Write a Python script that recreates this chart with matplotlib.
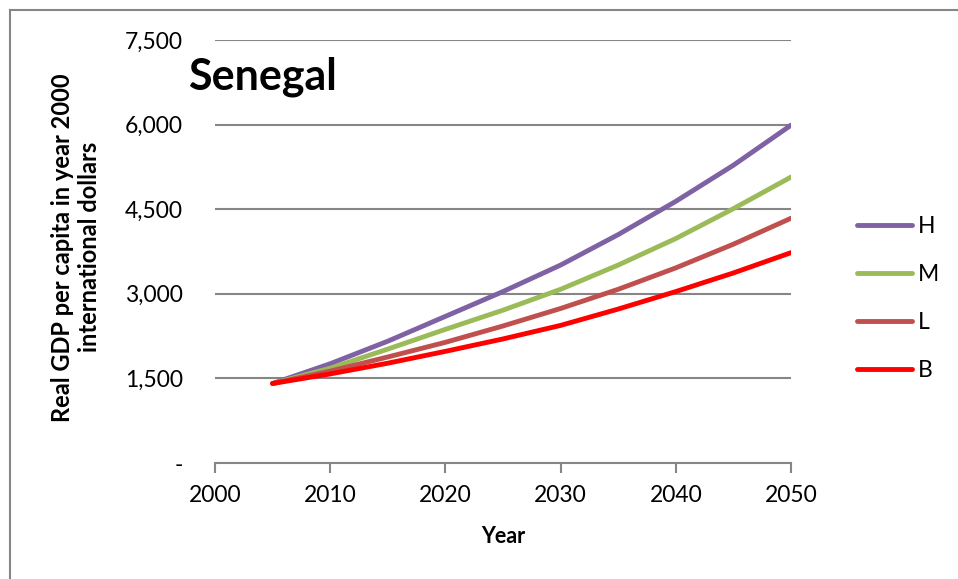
import matplotlib.pyplot as plt
from matplotlib.lines import Line2D
from matplotlib.ticker import FuncFormatter

years = [2005, 2010, 2015, 2020, 2025, 2030, 2035, 2040, 2045, 2050]
gdp_h = [1410, 1760, 2160, 2600, 3040, 3510, 4050, 4640, 5280, 5990]
gdp_m = [1410, 1680, 2020, 2370, 2710, 3080, 3510, 3980, 4510, 5070]
gdp_l = [1410, 1630, 1880, 2140, 2430, 2740, 3080, 3460, 3880, 4340]
gdp_b = [1410, 1580, 1770, 1980, 2200, 2440, 2730, 3040, 3370, 3730]

series = [('H', gdp_h, '#7f62a3'), ('M', gdp_m, '#9bbb59'),
          ('L', gdp_l, '#c0504d'), ('B', gdp_b, '#ff0000')]

plt.rcParams['font.family'] = ['Lato', 'DejaVu Sans']
grey = '#868686'

fig = plt.figure(figsize=(9.58, 5.79), dpi=100)
ax = fig.add_axes([0.2244, 0.2003, 0.6013, 0.7306])

for name, vals, col in series:
    ax.plot(years, vals, color=col, lw=3.5, solid_capstyle='round', label=name)

ax.set_xlim(2000, 2050)
ax.set_ylim(0, 7500)
ax.set_xticks(range(2000, 2051, 10))
ax.set_yticks(range(0, 7501, 1500))
ax.yaxis.set_major_formatter(FuncFormatter(lambda v, p: '-' if v == 0 else f'{int(v):,}'))
ax.grid(axis='y', color=grey, lw=1.5)
ax.set_axisbelow(True)
for s in ['top', 'right', 'left']:
    ax.spines[s].set_visible(False)
ax.spines['bottom'].set_color(grey)
ax.spines['bottom'].set_linewidth(1.5)
ax.tick_params(axis='y', length=0, pad=23, labelsize=16.5)
ax.tick_params(axis='x', length=7, width=1.5, color=grey, pad=9, labelsize=16.5)

ax.set_xlabel('Year', fontsize=15.5, fontweight='bold', labelpad=14)
ax.set_ylabel('Real GDP per capita in year 2000\ninternational dollars',
              fontsize=17, fontweight='bold')
ax.yaxis.set_label_coords(-0.198, 0.51)
ax.text(-0.047, 0.882, 'Senegal', transform=ax.transAxes, fontsize=31,
        fontweight='bold', va='baseline', ha='left')

fig.legend(loc='center left', bbox_to_anchor=(0.873, 0.485), frameon=False,
           fontsize=16.5, handlelength=2.4, handletextpad=0.26, labelspacing=1.18)

# outer frame: only top and left edges visible
fig.add_artist(Line2D([0.0105, 1.0], [0.983, 0.983], transform=fig.transFigure, color=grey, lw=1.5))
fig.add_artist(Line2D([0.0105, 0.0105], [0.0, 0.983], transform=fig.transFigure, color=grey, lw=1.5))

fig.savefig('out.png', dpi=100)
